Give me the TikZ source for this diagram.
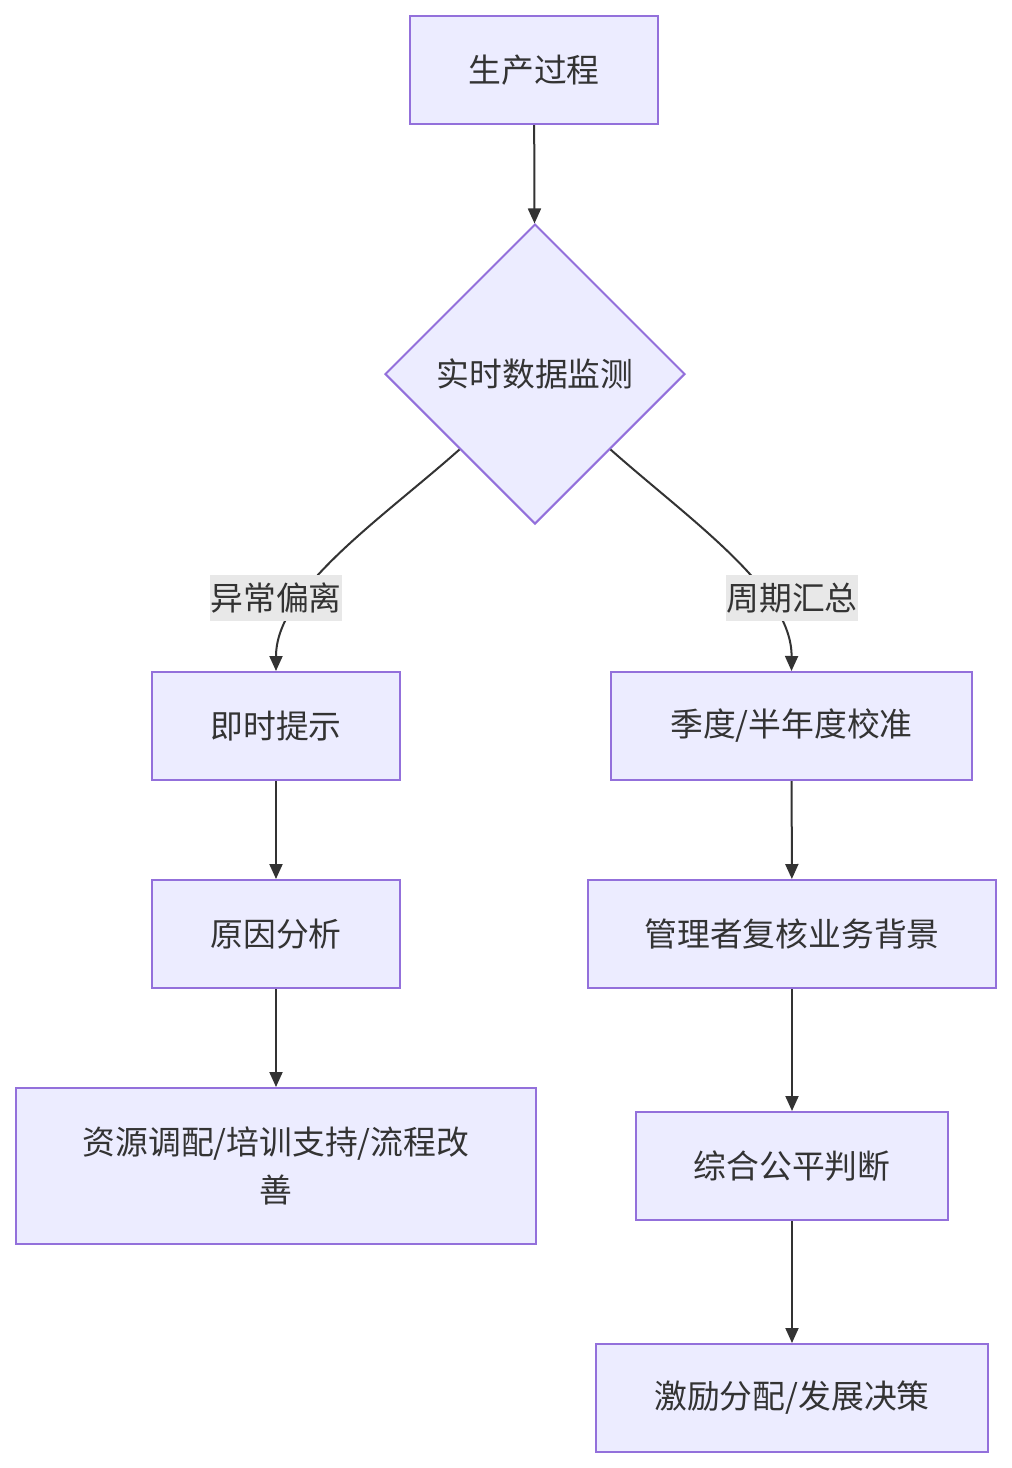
\documentclass[tikz,border=0pt]{standalone}
\usepackage{fontspec}
\setmainfont{Noto Sans CJK SC}
\usetikzlibrary{arrows.meta,shapes.geometric}
\definecolor{mmfill}{HTML}{ECECFF}
\definecolor{mmline}{HTML}{9370DB}
\definecolor{mmtext}{HTML}{333333}
\definecolor{mmlab}{HTML}{E8E8E8}
\tikzset{
  flow/.style={-{Triangle[length=7.5pt,width=6.5pt]},line width=1pt,mmtext},
  box/.style={draw=mmline,fill=mmfill,line width=1pt,text=mmtext,align=center,
    font=\fontsize{16.4pt}{24pt}\selectfont,inner sep=0pt},
  decide/.style={diamond,box,aspect=1,minimum size=150pt},
  labeltext/.style={fill=mmlab,text=mmtext,font=\fontsize{16.4pt}{20pt}\selectfont,
    inner sep=0pt,minimum width=64pt,minimum height=23pt}
}

\begin{document}
\begin{tikzpicture}[x=0.5pt,y=-0.5pt]
\useasboundingbox (0,0) rectangle (1012,1468);
\node[box,minimum width=124pt,minimum height=54pt] (prod) at (534,70) {生产过程};
\node[decide] (mon) at (535,374) {实时数据监测};
\node[box,minimum width=124pt,minimum height=54pt] (hint) at (276,726) {即时提示};
\node[box,minimum width=180.5pt,minimum height=54pt] (cal) at (791.5,726) {季度/半年度校准};
\node[box,minimum width=124pt,minimum height=54pt] (cause) at (276,934) {原因分析};
\node[box,minimum width=204pt,minimum height=54pt] (review) at (792,934) {管理者复核业务背景};
\node[box,minimum width=260pt,minimum height=78pt] (act) at (276,1166) {资源调配/培训支持/流程改\\善};
\node[box,minimum width=156pt,minimum height=54pt] (fair) at (792,1166) {综合公平判断};
\node[box,minimum width=196pt,minimum height=54pt] (deci) at (792,1398) {激励分配/发展决策};
\draw[flow] (prod) -- (mon);
\draw[flow] (mon.south west) .. controls (380,520) and (276,590) .. (hint.north)
  node[labeltext] (dev) at (276,598) {异常偏离};
\draw[flow] (mon.south east) .. controls (690,520) and (792,590) .. (cal.north)
  node[labeltext] (sum) at (792,598) {周期汇总};
\draw[flow] (hint) -- (cause);
\draw[flow] (cause) -- (act);
\draw[flow] (cal) -- (review);
\draw[flow] (review) -- (fair);
\draw[flow] (fair) -- (deci);
\end{tikzpicture}
\end{document}
